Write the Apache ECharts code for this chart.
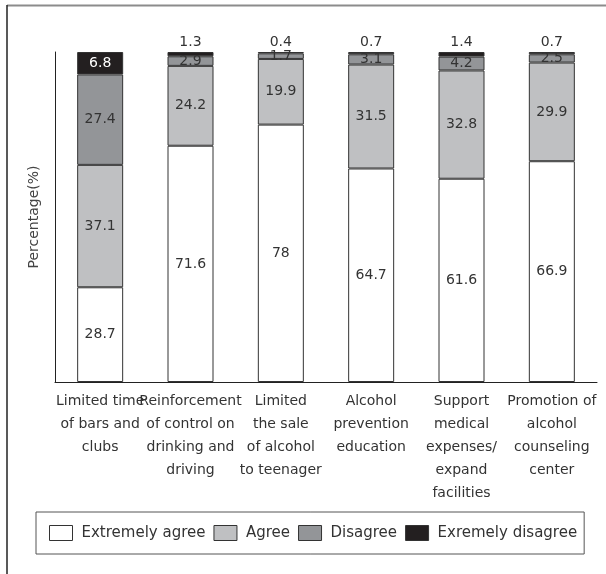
<!DOCTYPE html>
<html>
<head>
<meta charset="utf-8">
<script src="https://cdn.jsdelivr.net/npm/echarts@6/dist/echarts.min.js"></script>
<style>html,body{margin:0;padding:0;background:#fff;}#c{width:606px;height:574px;}</style>
</head>
<body>
<div id="c"></div>
<script>
var categories = [
  'Limited time\nof bars and\nclubs',
  'Reinforcement\nof control on\ndrinking and\ndriving',
  'Limited\nthe sale\nof alcohol\nto teenager',
  'Alcohol\nprevention\neducation',
  'Support\nmedical\nexpenses/\nexpand\nfacilities',
  'Promotion of\nalcohol\ncounseling\ncenter'
];
var extremelyAgree = [28.7, 71.6, 78, 64.7, 61.6, 66.9];
var agree = [37.1, 24.2, 19.9, 31.5, 32.8, 29.9];
var disagree = [27.4, 2.9, 1.7, 3.1, 4.2, 2.5];
var extremelyDisagree = [6.8, 1.3, 0.4, 0.7, 1.4, 0.7];
var seriesNames = ['Extremely agree', 'Agree', 'Disagree', 'Exremely disagree'];
var colors = ['#ffffff', '#bfc0c2', '#939598', '#231f20'];

var FONT = 'DejaVu Sans';
var chart = echarts.init(document.getElementById('c'));

function mk(name, data, color, idx) {
  return {
    name: name,
    type: 'bar',
    stack: 'total',
    barWidth: 46,
    data: data.map(function (v, i) {
      var item = { value: v };
      if (idx === 3) {
        if (v >= 5) {
          item.label = { position: 'inside', color: '#ffffff' };
        } else {
          item.label = { position: 'top', color: '#333', distance: 3 };
        }
      }
      return item;
    }),
    itemStyle: { color: color, borderColor: '#333', borderWidth: 1 },
    label: {
      show: true,
      position: 'inside',
      color: '#333',
      fontFamily: FONT,
      fontSize: 14
    },
    emphasis: { disabled: true },
    animation: false
  };
}

chart.setOption({
  animation: false,
  textStyle: { fontFamily: FONT },
  grid: { left: 55, right: 9, top: 52, bottom: 192, containLabel: false },
  xAxis: {
    type: 'category',
    data: categories,
    axisLine: { show: true, lineStyle: { color: '#222', width: 1 } },
    axisTick: { show: false },
    axisLabel: {
      interval: 0,
      color: '#333',
      fontFamily: FONT,
      fontSize: 14,
      lineHeight: 23,
      margin: 8,
      align: 'center'
    }
  },
  yAxis: {
    type: 'value',
    min: 0,
    max: 100,
    name: 'Percentage(%)',
    nameLocation: 'middle',
    nameGap: 14,
    nameTextStyle: { color: '#444', fontFamily: FONT, fontSize: 14 },
    axisLine: { show: true, lineStyle: { color: '#222', width: 1 } },
    axisTick: { show: false },
    axisLabel: { show: false },
    splitLine: { show: false }
  },
  legend: {
    data: seriesNames,
    left: 36,
    top: 512,
    orient: 'horizontal',
    borderColor: '#555',
    borderWidth: 1,
    padding: [13, 7, 13, 13],
    itemGap: 8,
    itemWidth: 23,
    itemHeight: 15,
    icon: 'rect',
    itemStyle: { borderColor: '#333', borderWidth: 1 },
    textStyle: { color: '#333', fontFamily: FONT, fontSize: 15, padding: [0, 0, 0, 4] },
    selectedMode: false
  },
  graphic: [
    { type: 'line', shape: { x1: 7, y1: 5.5, x2: 606, y2: 5.5 }, style: { stroke: '#8c8c8c', lineWidth: 2 } },
    { type: 'line', shape: { x1: 7, y1: 5, x2: 7, y2: 574 }, style: { stroke: '#222', lineWidth: 1.5 } }
  ],
  series: [
    mk(seriesNames[0], extremelyAgree, colors[0], 0),
    mk(seriesNames[1], agree, colors[1], 1),
    mk(seriesNames[2], disagree, colors[2], 2),
    mk(seriesNames[3], extremelyDisagree, colors[3], 3)
  ]
});
</script>
</body>
</html>
